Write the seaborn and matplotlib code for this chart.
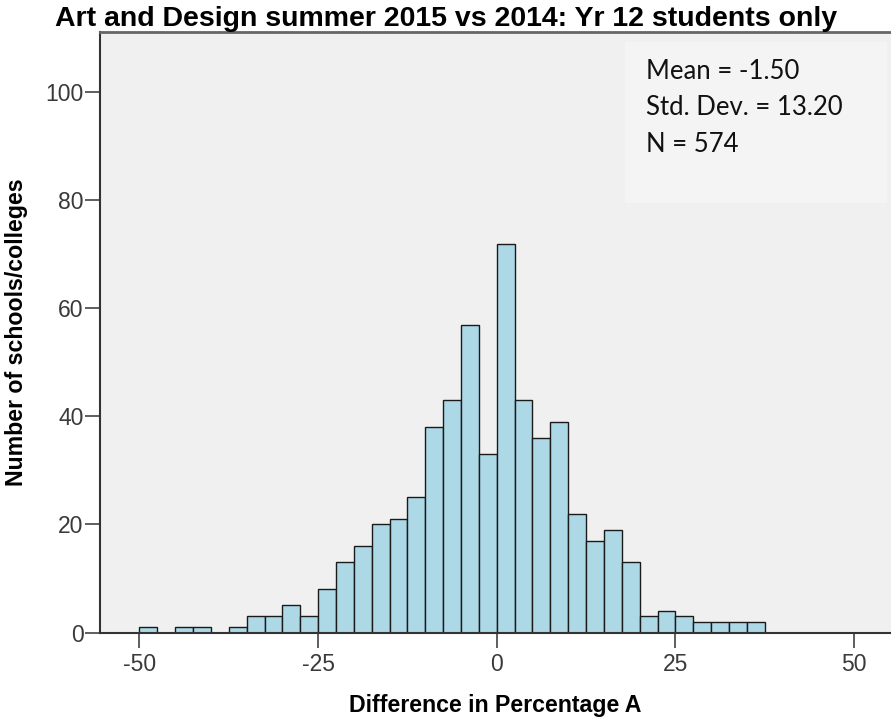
import numpy as np
import pandas as pd
import matplotlib.pyplot as plt
from matplotlib.patches import Rectangle
import seaborn as sns

# bin lower edges (width 2.5) and number of schools in each bin
bin_starts = [-50, -47.5, -45, -42.5, -40, -37.5, -35, -32.5, -30, -27.5,
              -25, -22.5, -20, -17.5, -15, -12.5, -10, -7.5, -5, -2.5,
              0, 2.5, 5, 7.5, 10, 12.5, 15, 17.5, 20, 22.5,
              25, 27.5, 30, 32.5, 35]
counts = [1, 0, 1, 1, 0, 1, 3, 3, 5, 3,
          8, 13, 16, 20, 21, 25, 38, 43, 57, 33,
          72, 43, 36, 39, 22, 17, 19, 13, 3, 4,
          3, 2, 2, 2, 2]
bin_width = 2.5

x_ticks = [-50, -25, 0, 25, 50]
y_ticks = [0, 20, 40, 60, 80, 100]
stats_lines = ["Mean = -1.50", "Std. Dev. = 13.20", "N = 574"]

df = pd.DataFrame({"diff": np.array(bin_starts) + bin_width / 2, "n": counts})

sns.set_style("white")
plt.rcParams["font.family"] = ["Liberation Sans", "DejaVu Sans"]
plt.rcParams["axes.unicode_minus"] = False

fig = plt.figure(figsize=(8.91, 7.17), dpi=100)
W, H = 891, 717
ax = fig.add_axes([100 / W, 1 - 632.5 / H, (891 - 100) / W, (632.5 - 32) / H])
ax.set_facecolor("#F0F0F0")

sns.histplot(data=df, x="diff", weights="n", binwidth=bin_width,
             binrange=(bin_starts[0], bin_starts[-1] + bin_width),
             color="#ADD8E6", alpha=1, edgecolor="#1a1a1a", linewidth=1.0, ax=ax)

ax.set_xlim(-55.52, 55.17)
ax.set_ylim(0, 111.2)
ax.set_xticks(x_ticks)
ax.set_yticks(y_ticks)
ax.set_xlabel("")
ax.set_ylabel("")
ax.tick_params(axis="both", direction="out", length=10.8, width=1.1,
               color="#333333", labelcolor="#3a3a3a", labelsize=16.5,
               bottom=True, left=True)
ax.tick_params(axis="x", pad=4)
ax.tick_params(axis="y", pad=1)

for s in ["left", "bottom"]:
    ax.spines[s].set_color("#333333")
    ax.spines[s].set_linewidth(1.5)
ax.spines["top"].set_color("#666666")
ax.spines["top"].set_linewidth(2)
ax.spines["right"].set_visible(False)

# lighter box behind the summary statistics
fig.patches.append(Rectangle((625 / W, 1 - 203 / H), 262 / W, 161 / H,
                             transform=fig.transFigure, facecolor="#F4F4F4",
                             edgecolor="none", zorder=0.5))

for line, yb in zip(stats_lines, [79.3, 115, 151.7]):
    fig.text(646 / W, 1 - yb / H, line, family=["Lato", "DejaVu Sans"],
             fontsize=18.5, va="baseline", ha="left", color="#111111")

fig.text(446.5 / W, 1 - 26 / H, "Art and Design summer 2015 vs 2014: Yr 12 students only",
         fontsize=20.5, fontweight="bold", ha="center", va="baseline", color="black")
fig.text(495 / W, 1 - 711.7 / H, "Difference in Percentage A",
         fontsize=16.7, fontweight="bold", ha="center", va="baseline", color="black")
fig.text(17 / W, 1 - 332.5 / H, "Number of schools/colleges",
         fontsize=16.7, fontweight="bold", ha="center", va="center", rotation=90,
         color="black")

fig.savefig("out.png", dpi=100)
